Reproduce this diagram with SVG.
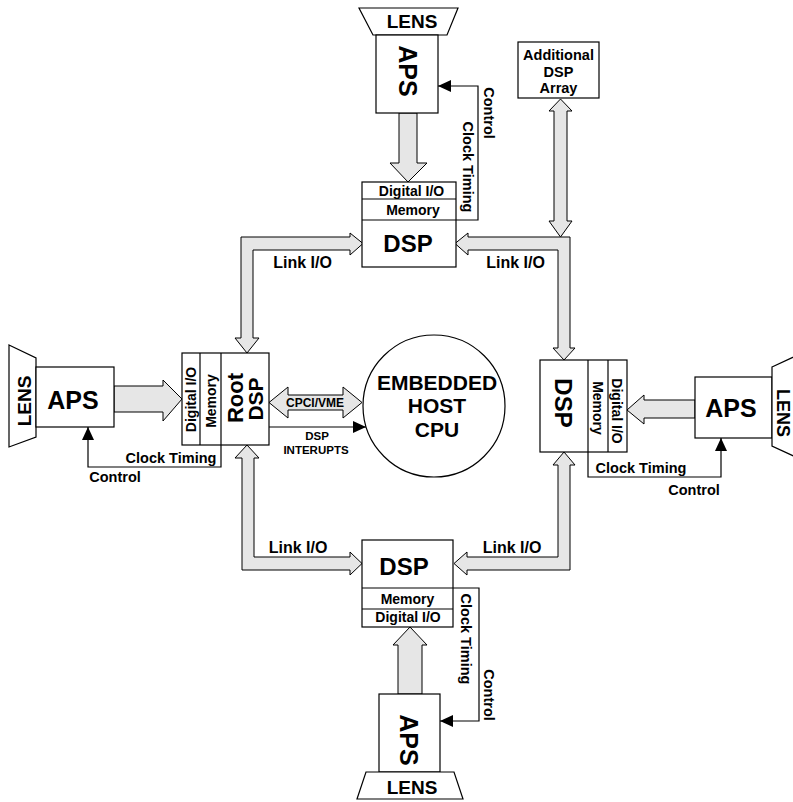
<svg xmlns="http://www.w3.org/2000/svg" width="793" height="802" viewBox="0 0 793 802">
<style>
.box{fill:#fff;stroke:#000;stroke-width:1.2}
.ln{fill:none;stroke:#000;stroke-width:1.2}
.bus{fill:#e6e6e6;stroke:#000;stroke-width:1}
text{font-family:"Liberation Sans",Arial,sans-serif;font-weight:bold;fill:#000;text-anchor:middle}
.big{font-size:25px}
.dsp{font-size:24px}
.lens{font-size:19px}
.sm{font-size:14px}
.lbl{font-size:14.5px}
.link{font-size:16px}
.cpu{font-size:21px}
.tiny{font-size:11.5px}
</style>
<defs>
<marker id="ah" markerWidth="14" markerHeight="12" refX="13" refY="6" orient="auto" markerUnits="userSpaceOnUse">
<path d="M0,0 L13,6 L0,12 Z" fill="#000"/>
</marker>
</defs>
<rect width="793" height="802" fill="#fff"/>

<g id="connectors">
<polygon class="bus" points="241,237 350,237 350,233 363,243.5 350,255 350,250 253,250 253,338 259,338 247,353 235,338 241,338"/>
<polygon class="bus" points="570,237 570,348 575,348 564,360 553,348 558,348 558,250 468,250 468,255 455,243.5 468,233 468,237"/>
<polygon class="bus" points="247,445 259,458 254,458 254,557 350,557 350,552 362,563.5 350,575 350,570 242,570 242,458 235,458"/>
<polygon class="bus" points="454,563.5 467,552 467,557 558,557 558,465 553,465 564,452 575,465 570,465 570,570 467,570 467,575"/>
<polygon class="bus" points="560.5,99 572,111 567,111 567,221 572,221 560.5,237 549,221 554,221 554,111 549,111"/>
<polygon class="bus" points="399,113 417,113 417,163 427,163 408,182 390,163 399,163"/>
<polygon class="bus" points="114,386 163,386 163,380 182,399 163,421 163,412 114,412"/>
<polygon class="bus" points="695,400 644,400 644,395 627,410 644,424 644,418 695,418"/>
<polygon class="bus" points="398,694 398,645 393,645 410,627 427,645 422,645 422,694"/>
<polygon class="bus" points="269,402.5 288,387 288,395 343,395 343,387 362,402.5 343,418 343,410 288,410 288,418"/>
<line class="ln" x1="269" y1="427" x2="366" y2="427" marker-end="url(#ah)"/>
<polyline class="ln" points="456,220 478,220 478,86 438,86" marker-end="url(#ah)"/>
<polyline class="ln" points="221,445 221,467 88,467 88,427" marker-end="url(#ah)"/>
<polyline class="ln" points="588,452 588,477 721,477 721,438" marker-end="url(#ah)"/>
<polyline class="ln" points="453,588 479,588 479,721 440,721" marker-end="url(#ah)"/>
</g>

<g id="labels">
<text class="link" x="302.5" y="268">Link I/O</text>
<text class="link" x="515.5" y="268">Link I/O</text>
<text class="link" x="298" y="553">Link I/O</text>
<text class="link" x="512" y="553">Link I/O</text>
<text class="lbl" x="171" y="463">Clock Timing</text>
<text class="lbl" x="115" y="482">Control</text>
<text class="lbl" x="641" y="473">Clock Timing</text>
<text class="lbl" x="694" y="495">Control</text>
<text class="lbl" transform="translate(489,113) rotate(90)" x="0" y="5">Control</text>
<text class="lbl" transform="translate(468,167) rotate(90)" x="0" y="5">Clock Timing</text>
<text class="lbl" transform="translate(466,639) rotate(90)" x="0" y="5">Clock Timing</text>
<text class="lbl" transform="translate(489,695) rotate(90)" x="0" y="5">Control</text>
<text class="lbl" x="315" y="407" style="font-size:12px">CPCI/VME</text>
<text class="tiny" x="317" y="440">DSP</text>
<text class="tiny" x="316" y="454">INTERUPTS</text>
</g>

<g id="top-lens">
<polygon class="box" points="359,8 458,8 447,35 373,35"/>
<text class="lens" x="412" y="28">LENS</text>
</g>
<g id="top-aps">
<rect class="box" x="376" y="35" width="62" height="78"/>
<text class="big" transform="translate(408,71) rotate(90)" x="0" y="9">APS</text>
</g>
<g id="top-dsp">
<rect class="box" x="362" y="182" width="94" height="85"/>
<line class="ln" x1="362" y1="199" x2="456" y2="199"/>
<line class="ln" x1="362" y1="220" x2="456" y2="220"/>
<text class="sm" x="411.5" y="196">Digital I/O</text>
<text class="sm" x="413" y="215">Memory</text>
<text class="dsp" x="408" y="252">DSP</text>
</g>
<g id="additional-dsp-array">
<rect class="box" x="518" y="42" width="81" height="56"/>
<text class="lbl" x="558.5" y="60">Additional</text>
<text class="lbl" x="558.5" y="77">DSP</text>
<text class="lbl" x="558.5" y="93">Array</text>
</g>

<g id="left-lens">
<polygon class="box" points="9,345 36,358 36,437 9,447"/>
<text class="lens" transform="translate(24,401) rotate(-90)" x="0" y="7">LENS</text>
</g>
<g id="left-aps">
<rect class="box" x="36" y="367" width="78" height="60"/>
<text class="big" x="73" y="409">APS</text>
</g>
<g id="root-dsp">
<rect class="box" x="182" y="353" width="87" height="92"/>
<line class="ln" x1="200" y1="353" x2="200" y2="445"/>
<line class="ln" x1="221" y1="353" x2="221" y2="445"/>
<text class="sm" transform="translate(191,399.5) rotate(-90)" x="0" y="5">Digital I/O</text>
<text class="sm" transform="translate(210.5,401) rotate(-90)" x="0" y="5">Memory</text>
<text class="dsp" transform="translate(234,398) rotate(-90)" x="0" y="8.5" style="font-size:22px">Root</text>
<text class="dsp" transform="translate(255,399) rotate(-90)" x="0" y="8" style="font-size:21px">DSP</text>
</g>

<g id="host-cpu">
<circle class="box" cx="434" cy="406" r="71"/>
<text class="cpu" x="437" y="390">EMBEDDED</text>
<text class="cpu" x="437" y="413">HOST</text>
<text class="cpu" x="437" y="437">CPU</text>
</g>

<g id="right-dsp">
<rect class="box" x="540" y="360" width="87" height="92"/>
<line class="ln" x1="588" y1="360" x2="588" y2="452"/>
<line class="ln" x1="608" y1="360" x2="608" y2="452"/>
<text class="dsp" transform="translate(563,403) rotate(90)" x="0" y="8.5">DSP</text>
<text class="sm" transform="translate(597.5,408) rotate(90)" x="0" y="5">Memory</text>
<text class="sm" transform="translate(617,411) rotate(90)" x="0" y="5">Digital I/O</text>
</g>
<g id="right-aps">
<rect class="box" x="695" y="377" width="77" height="61"/>
<text class="big" x="731" y="417">APS</text>
</g>
<g id="right-lens">
<polygon class="box" points="772,367 800,354 800,459 772,446"/>
<text class="lens" transform="translate(783.5,413) rotate(90)" x="0" y="7" style="font-size:18px">LENS</text>
</g>

<g id="bottom-dsp">
<rect class="box" x="362" y="540" width="91" height="87"/>
<line class="ln" x1="362" y1="588" x2="453" y2="588"/>
<line class="ln" x1="362" y1="609" x2="453" y2="609"/>
<text class="dsp" x="404" y="575">DSP</text>
<text class="sm" x="407.5" y="604">Memory</text>
<text class="sm" x="408" y="622">Digital I/O</text>
</g>
<g id="bottom-aps">
<rect class="box" x="379" y="694" width="61" height="78"/>
<text class="big" transform="translate(409,740) rotate(90)" x="0" y="9">APS</text>
</g>
<g id="bottom-lens">
<polygon class="box" points="366,772 454,772 463,799 357,799"/>
<text class="lens" x="412" y="794">LENS</text>
</g>
</svg>
